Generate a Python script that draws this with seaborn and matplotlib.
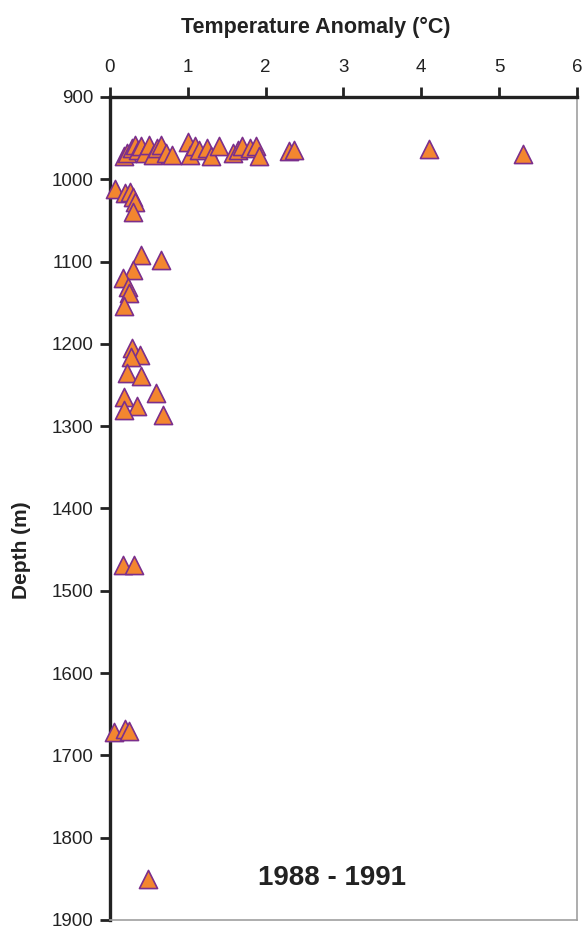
import pandas as pd
import seaborn as sns
import matplotlib.pyplot as plt

# temperature anomaly (deg C) and depth (m)
temp_anomaly = [0.18, 0.22, 0.28, 0.32, 0.36, 0.40, 0.45, 0.50, 0.55, 0.60,
                0.66, 0.72, 0.80, 1.00, 1.03, 1.10, 1.15, 1.25, 1.30, 1.40,
                1.58, 1.65, 1.70, 1.80, 1.88, 1.92, 2.30, 2.36, 4.10, 5.31,
                0.07, 0.19, 0.26, 0.30, 0.33, 0.30,
                0.40, 0.66, 0.30, 0.17, 0.24, 0.25, 0.18,
                0.28, 0.39, 0.27, 0.22, 0.40, 0.59, 0.18, 0.35, 0.18, 0.68,
                0.17, 0.31,
                0.05, 0.20, 0.25,
                0.49]
depth = [972, 968, 962, 958, 965, 960, 968, 958, 970, 962,
         958, 968, 970, 955, 970, 960, 965, 962, 972, 960,
         968, 965, 960, 962, 960, 972, 966, 965, 963, 969,
         1012, 1017, 1015, 1021, 1028, 1040,
         1092, 1098, 1110, 1120, 1131, 1138, 1154,
         1205, 1213, 1216, 1235, 1239, 1260, 1264, 1276, 1280, 1286,
         1469, 1469,
         1672, 1668, 1670,
         1850]

period_label = '1988 - 1991'

df = pd.DataFrame({'temp': temp_anomaly, 'depth': depth})

sns.set_style('white')
plt.rcParams['font.family'] = ['Liberation Sans', 'DejaVu Sans']

fig = plt.figure(figsize=(5.84, 9.32), dpi=100)
ax = fig.add_axes([0.188, 0.0129, 0.8, 0.8831])

sns.scatterplot(data=df, x='temp', y='depth', ax=ax, marker='^', s=170,
                color='#F3862F', edgecolor='#7B2F8C', linewidth=1.2,
                zorder=4, clip_on=False, legend=False)

ax.set_xlim(0, 6)
ax.set_ylim(1900, 900)
ax.set_xticks(range(0, 7))
ax.set_yticks(range(900, 2000, 100))
ax.xaxis.tick_top()
ax.tick_params(axis='x', top=True, bottom=False, direction='out', length=7,
               width=2, labelsize=13.5, pad=8, colors='#222222')
ax.tick_params(axis='y', left=True, direction='out', length=7, width=2,
               labelsize=13.5, pad=5, colors='#222222')
ax.set_xlabel('')
ax.set_ylabel('')

for side in ['left', 'top']:
    ax.spines[side].set_color('#222222')
    ax.spines[side].set_linewidth(2.4)
for side in ['right', 'bottom']:
    ax.spines[side].set_color('#a0a0a0')
    ax.spines[side].set_linewidth(1.2)

ax.text(2.85, 1849, period_label, ha='center', va='center',
        fontsize=20, fontweight='bold', color='#222222')

fig.text(0.541, 0.971, 'Temperature Anomaly (°C)', ha='center', va='center',
         fontsize=15.5, fontweight='bold', color='#222222')
fig.text(0.036, 0.41, 'Depth (m)', ha='center', va='center', rotation=90,
         fontsize=15, fontweight='bold', color='#222222')

fig.savefig('out.png', dpi=100)
